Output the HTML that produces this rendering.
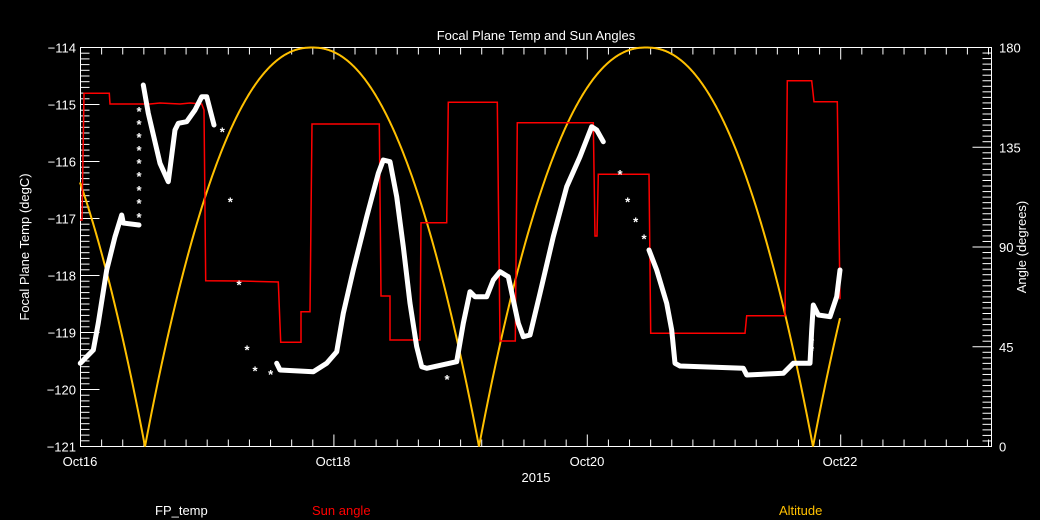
<!DOCTYPE html>
<html><head><meta charset="utf-8"><style>
body{margin:0;background:#000;width:1040px;height:520px;overflow:hidden}
svg{display:block}
text{font-family:"Liberation Sans",sans-serif;font-size:13px}
</style></head><body>
<svg id="s" width="1040" height="520" xmlns="http://www.w3.org/2000/svg">
<rect width="1040" height="520" fill="#000"/>
<g id="ax" stroke="#fff" stroke-width="1" fill="none"></g>
<rect x="80.5" y="47.5" width="911" height="399" fill="none" stroke="#fff"/>
<polyline id="alt" fill="none" stroke="#ffc000" stroke-width="2"/>
<polyline fill="none" stroke="#f00" stroke-width="1.5" points="80,220 82,220 84,93.3 109.3,93.3 110,104 150,104 160,103 180,104 190,103 201.7,104 204,110 205.7,280.7 240,281 278.3,282 280.7,342.3 301,342.3 301,311.7 310,311.7 312,124 379.3,124 381,296 390,296 390,340 420,340 421,222.7 446.7,222.7 448.3,102.3 497.3,102.3 500,341 515.3,341 517.3,122.7 593.3,122.7 595,236 597,236 598.3,174.3 649,174.3 650.7,333.3 745,333.3 746.7,315.7 785,315.7 787.3,80.7 811.7,80.7 814,101.7 837.3,101.7 840,299.3"/>
<g fill="none" stroke="#fff" stroke-width="5" stroke-linejoin="round" stroke-linecap="round">
<polyline points="80.3,363.3 93.3,350 98.3,323 106.7,270 115,236.7 121.7,215 123.3,223 139,225"/>
<polyline points="143.3,85 148.3,113.3 160,163.3 168.3,181.7 175,130 178.3,123.3 186.7,121.7 195,110 201.7,96.7 206.7,96.7 214,125"/>
<polyline points="276.7,363.3 280,370 313.3,371.7 326.7,363.3 336.7,351.7 343.3,313.3 353.3,270 366.7,216.7 378.3,173.3 383.3,160 390,161.7 396.7,196.7 403.3,246.7 410,303.3 416.7,346.7 421.7,366.7 426.7,368.3 456.7,361.7 463.3,323.3 470,291.7 475,296.7 486.7,296.7 493.3,280 500,271.7 508.3,276.7 518.3,323.3 523.3,336.7 530,335 540,293.3 553.3,236.7 566.7,186.7 580,156.7 591.7,126.7 596.7,130 603.3,141.7"/>
<polyline points="649,250 656.7,270 666.7,303.3 671.7,330 675,363.3 680,366 743.3,368.3 746.7,375 783.3,373.3 793.3,363.3 810,363.3 811.7,330 813.3,305 818.3,315 830,316.7 836.7,296.7 840,270"/>
</g>
<g id="stars" fill="#fff" font-size="17" font-weight="bold" text-anchor="middle"></g>
<text x="536" y="40" fill="#fff" text-anchor="middle" font-size="14">Focal Plane Temp and Sun Angles</text>
<g fill="#fff" text-anchor="end" id="ll"></g>
<g fill="#fff" id="rl"></g>
<g fill="#fff" text-anchor="middle">
<text x="80" y="466">Oct16</text><text x="333" y="466">Oct18</text><text x="587" y="466">Oct20</text><text x="840" y="466">Oct22</text>
<text x="536" y="482">2015</text>
</g>
<text transform="translate(29,247) rotate(-90)" fill="#fff" text-anchor="middle">Focal Plane Temp (degC)</text>
<text transform="translate(1026,247) rotate(-90)" fill="#fff" text-anchor="middle">Angle (degrees)</text>
<text x="155" y="515" fill="#fff">FP_temp</text>
<text x="312" y="515" fill="#f00">Sun angle</text>
<text x="779" y="515" fill="#ffc000">Altitude</text>
</svg>
<script>
var NS="http://www.w3.org/2000/svg";
function el(p,t,a,txt){var e=document.createElementNS(NS,t);for(var k in a)e.setAttribute(k,a[k]);if(txt)e.textContent=txt;document.getElementById(p).appendChild(e);}
var L=80.5,R=991.5,T=47.5,B=446.5;
for(var i=0;i<=70;i++){var y=T+i*(399/70);var len=i%10==0?19:9;el("ax","line",{x1:L,y1:y,x2:L+len,y2:y});}
for(var k=0;k<=7;k++){el("ll","text",{x:76,y:T+k*57+5},"\u2212"+(114+k));}
for(var i=0;i<=72;i++){var y=B-i*(399/72);var len=i%18==0?19:9;el("ax","line",{x1:R,y1:y,x2:R-len,y2:y});}
[180,135,90,45,0].forEach(function(v){el("rl","text",{x:999,y:B-v*399/180+5},""+v);});
var pd=126.7;
for(var i=0;;i++){var x=80.5+i*pd/6;if(x>R)break;var len=(i%12==0)?12:7;el("ax","line",{x1:x,y1:B,x2:x,y2:B-len});el("ax","line",{x1:x,y1:T,x2:x,y2:T+len});}
var pts=[];for(var x=80;x<=840;x+=1){var d=Math.abs(x-145)%334;if(d>167)d=334-d;var u=d/167;var a=180*(1-Math.pow(1-u,2.2));pts.push(x+","+(B-a*399/180).toFixed(1));}
document.getElementById("alt").setAttribute("points",pts.join(" "));
[[139,213],[139,199],[139,186],[139,172],[139,159],[139,146],[139,133],[139,120],[139,107],[222.3,127.7],[230.3,197.7],[239,280.7],[247,345.3],[255,366.7],[270.7,370],[620,170],[627.7,197.7],[635.7,217.7],[644,234.3],[811.7,346],[811.7,338],[447,375]].forEach(function(p){el("stars","text",{x:p[0],y:p[1]+9},"*");});
</script>
</body></html>
